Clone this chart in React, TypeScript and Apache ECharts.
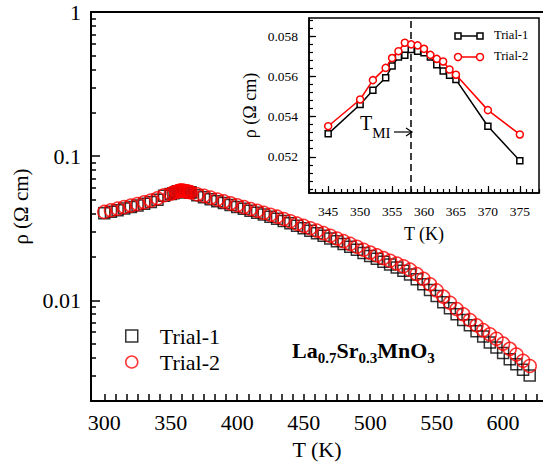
import React, { useEffect, useRef } from 'react';
import * as echarts from 'echarts';

const FONT = 'Liberation Serif';

// Main plot data (T in K, rho in Ohm cm)
const lowT = [300, 305, 310, 315, 320, 325, 330, 335, 340];
const lowTrial1 = [0.0402, 0.0412, 0.0422, 0.0433, 0.0444, 0.0455, 0.0467, 0.0481, 0.0498];
const lowTrial2 = [0.0410, 0.0421, 0.0432, 0.0443, 0.0454, 0.0465, 0.0478, 0.0492, 0.0510];

// Peak region (also shown in the inset)
const insetT = [345, 350, 352, 354, 355, 356, 357, 358, 359, 360, 361, 362, 363, 364, 365, 370, 375];
const insetTrial1 = [0.05314, 0.0546, 0.05531, 0.05593, 0.05651, 0.05696, 0.05705, 0.05734, 0.05725, 0.05717, 0.05696, 0.05657, 0.05626, 0.05606, 0.05584, 0.05352, 0.0518];
const insetTrial2 = [0.05352, 0.05485, 0.05581, 0.05642, 0.05691, 0.05725, 0.05767, 0.05759, 0.05754, 0.05737, 0.05707, 0.05687, 0.05674, 0.05634, 0.05608, 0.05432, 0.05311];

const highT = [380, 385, 390, 395, 400, 405, 410, 415, 420, 425, 430, 435, 440, 445, 450, 455, 460, 465, 470, 475, 480, 485, 490, 495, 500, 505, 510, 515, 520, 525, 530, 535, 540, 545, 550, 555, 560, 565, 570, 575, 580, 585, 590, 595, 600, 605, 610, 615, 620];
const highTrial1 = [0.0502, 0.0487, 0.0472, 0.0458, 0.0444, 0.0431, 0.0418, 0.0405, 0.0393, 0.0380, 0.0368, 0.0355, 0.0342, 0.0329, 0.0316, 0.0304, 0.0292, 0.0280, 0.0268, 0.0257, 0.0246, 0.0235, 0.0224, 0.0213, 0.0203, 0.0194, 0.0185, 0.0177, 0.0169, 0.0160, 0.0151, 0.0140, 0.0129, 0.0118, 0.0107, 0.0097, 0.0088, 0.0080, 0.0073, 0.0067, 0.0061, 0.0056, 0.0051, 0.0047, 0.0043, 0.0039, 0.0036, 0.0033, 0.0030];
const highTrial2 = [0.0515, 0.0500, 0.0485, 0.0470, 0.0456, 0.0443, 0.0430, 0.0417, 0.0405, 0.0392, 0.0380, 0.0366, 0.0353, 0.0340, 0.0328, 0.0316, 0.0304, 0.0292, 0.0280, 0.0268, 0.0257, 0.0246, 0.0235, 0.0224, 0.0214, 0.0205, 0.0196, 0.0188, 0.0180, 0.0172, 0.0163, 0.0152, 0.0141, 0.0129, 0.0117, 0.0106, 0.0096, 0.0087, 0.0080, 0.0073, 0.0067, 0.0062, 0.0058, 0.0054, 0.0050, 0.0046, 0.0042, 0.0038, 0.0035];

// Tick labels
const mainXLabels = [300, 350, 400, 450, 500, 550, 600];
const mainYLabels = [0.01, 0.1, 1];
const insetXLabels = [345, 350, 355, 360, 365, 370, 375];
const insetYLabels = [0.052, 0.054, 0.056, 0.058];
const T_MI = 358;

const legendNames = ['Trial-1', 'Trial-2'];

// Minor tick positions
const mainXMinor: number[] = [];
for (let k = 0; k <= 39; k++) mainXMinor.push(300 + (k * 50) / 6);
const mainYMinor: number[] = [];
[0.001, 0.01, 0.1].forEach((d) => {
  for (let k = 2; k <= 9; k++) mainYMinor.push(+(k * d).toPrecision(3));
});
const insetXMinor: number[] = [];
for (let t = 342; t <= 378; t++) insetXMinor.push(t);
const insetYMinor: number[] = [];
for (let k = 126; k <= 147; k++) insetYMinor.push(+(k * 0.0004).toFixed(4));

const pairs = (xs: number[], ys: number[]) => xs.map((x, i) => [x, ys[i]]);
const rs = (size: number, extra: any = {}) => ({ fontSize: size, fontFamily: FONT, color: '#000', ...extra });

export default function App() {
  const ref = useRef<HTMLDivElement>(null);
  useEffect(() => {
    if (!ref.current) return;
    const chart = echarts.init(ref.current, null, { renderer: 'svg' });
    const mainT = [...lowT, ...insetT, ...highT];
    const main1 = [...lowTrial1, ...insetTrial1, ...highTrial1];
    const main2 = [...lowTrial2, ...insetTrial2, ...highTrial2];

    chart.setOption({
      animation: false,
      backgroundColor: '#fff',
      textStyle: { fontFamily: FONT, color: '#000' },
      grid: [
        { left: 91, top: 12, width: 454.5, height: 392, show: false },
        { left: 309, top: 18, width: 230, height: 175, show: true, backgroundColor: '#fff', borderColor: '#000', borderWidth: 1.5, z: 5 },
      ],
      xAxis: [
        {
          gridIndex: 0, type: 'value', min: 290, max: 630, position: 'bottom',
          axisLine: { show: true, lineStyle: { color: '#000', width: 2 } },
          axisTick: { show: true, inside: true, length: 7, customValues: mainXMinor, lineStyle: { color: '#000', width: 1.5 } },
          axisLabel: { customValues: mainXLabels, margin: 10, formatter: (v: number) => `{a|${v}}`, rich: { a: rs(22) } },
          splitLine: { show: false },
          name: '{a|T (K)}', nameLocation: 'middle', nameGap: 37, nameTextStyle: { rich: { a: rs(22) } },
        },
        {
          gridIndex: 0, type: 'value', min: 290, max: 630, position: 'top',
          axisLine: { show: true, lineStyle: { color: '#000', width: 2 } },
          axisTick: { show: false }, axisLabel: { show: false }, splitLine: { show: false },
        },
        {
          gridIndex: 1, type: 'value', min: 342, max: 378, position: 'bottom', z: 6,
          axisLine: { show: true, lineStyle: { color: '#000', width: 1.5 } },
          axisTick: { show: true, inside: true, length: 7, customValues: insetXLabels, lineStyle: { color: '#000', width: 1.2 } },
          axisLabel: { customValues: insetXLabels, margin: 11, formatter: (v: number) => `{a|${v}}`, rich: { a: rs(13.5) } },
          splitLine: { show: false },
          name: '{a|T (K)}', nameLocation: 'middle', nameGap: 32, nameTextStyle: { rich: { a: rs(18) } },
        },
        {
          gridIndex: 1, type: 'value', min: 342, max: 378, position: 'bottom', z: 6,
          axisLine: { show: false },
          axisTick: { show: true, inside: true, length: 4, customValues: insetXMinor, lineStyle: { color: '#000', width: 1.2 } },
          axisLabel: { show: false }, splitLine: { show: false },
        },
      ],
      yAxis: [
        {
          gridIndex: 0, type: 'log', logBase: 10, min: 0.002, max: 1, position: 'left',
          axisLine: { show: true, lineStyle: { color: '#000', width: 2 } },
          axisTick: { show: true, inside: true, length: 9, customValues: mainYLabels, lineStyle: { color: '#000', width: 1.5 } },
          axisLabel: { customValues: mainYLabels, margin: 10, formatter: (v: number) => `{a|${+v.toPrecision(3)}}`, rich: { a: rs(22) } },
          splitLine: { show: false },
          name: '{a|ρ (Ω cm)}', nameLocation: 'middle', nameGap: 58, nameTextStyle: { rich: { a: rs(21) } },
        },
        {
          gridIndex: 0, type: 'log', logBase: 10, min: 0.002, max: 1, position: 'left',
          axisLine: { show: false },
          axisTick: { show: true, inside: true, length: 5, customValues: mainYMinor, lineStyle: { color: '#000', width: 1.5 } },
          axisLabel: { show: false }, splitLine: { show: false },
        },
        {
          gridIndex: 1, type: 'value', min: 0.0502, max: 0.0589, position: 'left', z: 6,
          axisLine: { show: true, lineStyle: { color: '#000', width: 1.5 } },
          axisTick: { show: true, inside: true, length: 7, customValues: insetYLabels, lineStyle: { color: '#000', width: 1.2 } },
          axisLabel: { customValues: insetYLabels, margin: 11, formatter: (v: number) => `{a|${v.toFixed(3)}}`, rich: { a: rs(13.5) } },
          splitLine: { show: false },
          name: '{a|ρ (Ω cm)}', nameLocation: 'middle', nameGap: 50, nameTextStyle: { rich: { a: rs(18) } },
        },
        {
          gridIndex: 1, type: 'value', min: 0.0502, max: 0.0589, position: 'left', z: 6,
          axisLine: { show: false },
          axisTick: { show: true, inside: true, length: 4, customValues: insetYMinor, lineStyle: { color: '#000', width: 1.2 } },
          axisLabel: { show: false }, splitLine: { show: false },
        },
      ],
      legend: {
        orient: 'vertical', left: 120, top: 320, itemWidth: 12, itemHeight: 12, itemGap: 4,
        selectedMode: false,
        formatter: (n: string) => `{a|${n}}`,
        textStyle: { rich: { a: rs(22, { padding: [0, 0, 0, 17] }) } },
        data: [
          { name: legendNames[0], icon: 'rect', itemStyle: { color: 'rgba(0,0,0,0)', borderColor: '#000', borderWidth: 1.5 } },
          { name: legendNames[1], icon: 'circle', itemStyle: { color: 'rgba(0,0,0,0)', borderColor: '#ff0000', borderWidth: 1.5 } },
        ],
      },
      series: [
        {
          name: legendNames[0], type: 'scatter', xAxisIndex: 0, yAxisIndex: 0,
          symbol: 'rect', symbolSize: 11, z: 2,
          itemStyle: { color: 'rgba(0,0,0,0)', borderColor: '#000', borderWidth: 1.5 },
          data: pairs(mainT, main1),
        },
        {
          name: legendNames[1], type: 'scatter', xAxisIndex: 0, yAxisIndex: 0,
          symbol: 'circle', symbolSize: 13, z: 3,
          itemStyle: { color: 'rgba(0,0,0,0)', borderColor: '#ff0000', borderWidth: 1.5 },
          data: pairs(mainT, main2),
        },
        {
          name: 'Trial-1 inset', type: 'line', xAxisIndex: 2, yAxisIndex: 2, z: 7,
          symbol: 'rect', symbolSize: 6, showAllSymbol: true,
          itemStyle: { color: '#fff', borderColor: '#000', borderWidth: 1.5 },
          lineStyle: { color: '#000', width: 1.5 },
          data: pairs(insetT, insetTrial1),
          markLine: {
            silent: true, symbol: ['none', 'none'], label: { show: false },
            lineStyle: { color: '#000', width: 1.5, type: [7, 4] },
            data: [{ xAxis: T_MI }],
          },
        },
        {
          name: 'Trial-2 inset', type: 'line', xAxisIndex: 2, yAxisIndex: 2, z: 8,
          symbol: 'circle', symbolSize: 7, showAllSymbol: true,
          itemStyle: { color: '#fff', borderColor: '#ff0000', borderWidth: 1.5 },
          lineStyle: { color: '#ff0000', width: 1.5 },
          data: pairs(insetT, insetTrial2),
        },
      ],
      graphic: [
        // Formula label
        {
          type: 'text', left: 292, top: 339, z: 100,
          style: {
            text: '{b|La}{s|0.7}{b|Sr}{s|0.3}{b|MnO}{s|3}',
            rich: {
              b: { fontSize: 22, fontWeight: 'bold', fontFamily: FONT, fill: '#000', lineHeight: 30 },
              s: { fontSize: 15, fontWeight: 'bold', fontFamily: FONT, fill: '#000', padding: [15, 0, 0, 0] },
            },
          },
        },
        // T_MI annotation
        {
          type: 'text', left: 360, top: 113, z: 100,
          style: {
            text: '{t|T}{s|MI}',
            rich: {
              t: { fontSize: 20, fontFamily: FONT, fill: '#000', lineHeight: 26 },
              s: { fontSize: 15, fontFamily: FONT, fill: '#000', padding: [19, 0, 0, 0] },
            },
          },
        },
        { type: 'line', z: 100, shape: { x1: 394, y1: 132, x2: 412, y2: 132 }, style: { stroke: '#000', lineWidth: 1.2 } },
        { type: 'polyline', z: 100, shape: { points: [[406, 128], [412, 132], [406, 136]] }, style: { stroke: '#000', lineWidth: 1.2, fill: 'none' } },
        // Inset legend
        { type: 'line', z: 100, shape: { x1: 458, y1: 36, x2: 480, y2: 36 }, style: { stroke: '#000', lineWidth: 1.5 } },
        { type: 'rect', z: 101, shape: { x: 455, y: 33, width: 6, height: 6 }, style: { fill: '#fff', stroke: '#000', lineWidth: 1.5 } },
        { type: 'rect', z: 101, shape: { x: 477, y: 33, width: 6, height: 6 }, style: { fill: '#fff', stroke: '#000', lineWidth: 1.5 } },
        {
          type: 'text', z: 100, left: 494, top: 28,
          style: { text: `{a|${legendNames[0]}}`, rich: { a: { fontSize: 12.5, fontFamily: FONT, fill: '#000', lineHeight: 16 } } },
        },
        { type: 'line', z: 100, shape: { x1: 458, y1: 57, x2: 480, y2: 57 }, style: { stroke: '#ff0000', lineWidth: 1.5 } },
        { type: 'circle', z: 101, shape: { cx: 458, cy: 57, r: 3.5 }, style: { fill: '#fff', stroke: '#ff0000', lineWidth: 1.5 } },
        { type: 'circle', z: 101, shape: { cx: 480, cy: 57, r: 3.5 }, style: { fill: '#fff', stroke: '#ff0000', lineWidth: 1.5 } },
        {
          type: 'text', z: 100, left: 494, top: 49,
          style: { text: `{a|${legendNames[1]}}`, rich: { a: { fontSize: 12.5, fontFamily: FONT, fill: '#000', lineHeight: 16 } } },
        },
      ],
    });
    return () => chart.dispose();
  }, []);
  return <div ref={ref} style={{ position: 'absolute', left: 0, top: 0, width: 543, height: 465 }} />;
}
